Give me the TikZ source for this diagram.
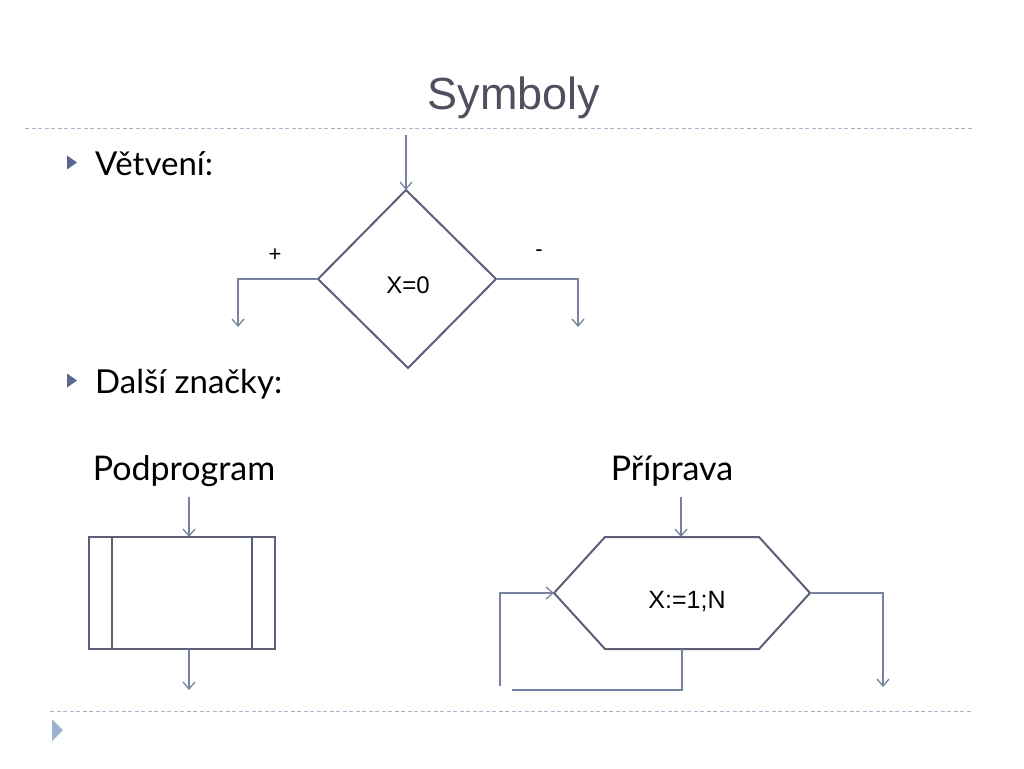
\documentclass[tikz,border=0pt]{standalone}
\usepackage{fontspec}
\setmainfont{Lato}
\newfontfamily\arialf{Liberation Sans}
\usetikzlibrary{arrows.meta}
\definecolor{titlegray}{HTML}{4F4F5F}
\definecolor{shapeline}{HTML}{5C5F78}
\definecolor{conn}{HTML}{7782A2}
\definecolor{rulec}{HTML}{A8B4C8}
\definecolor{bulletc}{HTML}{5A6890}
\definecolor{tri}{HTML}{9DB2D0}
\tikzset{
  shp/.style={draw=shapeline, line width=2pt},
  cn/.style={draw=conn, line width=1.3pt},
  arr/.style={cn, -{Straight Barb[length=7pt,width=12pt,line width=1.3pt]}},
  rul/.style={draw=rulec, line width=1pt, dash pattern=on 4pt off 2.5pt},
  bul/.style={fill=bulletc},
  body/.style={font=\fontsize{33}{40}\selectfont, anchor=base west, inner sep=0pt},
  head/.style={font=\fontsize{34}{40}\selectfont, anchor=base, inner sep=0pt},
  lbl/.style={font=\arialf\fontsize{24}{28}\selectfont, inner sep=0pt},
  sign/.style={font=\arialf\fontsize{22}{26}\selectfont, inner sep=0pt},
}
\begin{document}
\begin{tikzpicture}[x=1pt,y=-1pt]
\useasboundingbox (0,0) rectangle (1024,768);
% title
\node[font=\arialf\fontsize{45}{54}\selectfont, text=titlegray, anchor=base, inner sep=0pt] (title) at (514,109) {Symboly};
\draw[rul] (25,128) -- (972,128);
\draw[rul] (50,711) -- (972,711);
\fill[tri] (52,719) -- (63,730) -- (52,741) -- cycle;
% bullets
\fill[bul] (67,155.5) -- (77,162.5) -- (67,169.5) -- cycle;
\node[body] (b1) at (95,175) {Větvení:};
\fill[bul] (67,373.5) -- (77,380.5) -- (67,387.5) -- cycle;
\node[body] (b2) at (95,393) {Další značky:};
\node[head] (pp) at (184,480) {Podprogram};
\node[head] (pr) at (672,480) {Příprava};
% diamond
\coordinate (dT) at (406,190);
\coordinate (dL) at (318,279);
\coordinate (dR) at (496,279);
\coordinate (dB) at (408,368);
\draw[shp, line join=miter] (dT) -- (dR) -- (dB) -- (dL) -- cycle;
\node[lbl] (x0) at (408,285) {X=0};
\coordinate (dIn) at (406,135);
\draw[arr] (dIn) -- (dT);
\coordinate (lA) at (238,279);
\coordinate (lB) at (238,327);
\draw[arr] (dL) -- (lA) -- (lB);
\coordinate (rA) at (578,279);
\coordinate (rB) at (578,327);
\draw[arr] (dR) -- (rA) -- (rB);
\node[sign] (plus) at (275,255) {+};
\node[sign] (minus) at (539,253) {-};
% subprogram
\draw[shp] (89,537) rectangle (275,649);
\draw[shp] (112,537) -- (112,649);
\draw[shp] (252,537) -- (252,649);
\coordinate (spIn) at (189,497);
\coordinate (spT) at (189,537);
\coordinate (spB) at (189,649);
\coordinate (spOut) at (189,690);
\draw[arr] (spIn) -- (spT);
\draw[arr] (spB) -- (spOut);
% hexagon
\coordinate (hL) at (554,593);
\coordinate (hTL) at (605,537);
\coordinate (hTR) at (759,537);
\coordinate (hR) at (810,593);
\coordinate (hBR) at (759,649);
\coordinate (hBL) at (605,649);
\draw[shp, line join=miter] (hL) -- (hTL) -- (hTR) -- (hR) -- (hBR) -- (hBL) -- cycle;
\node[lbl, font=\arialf\fontsize{25}{30}\selectfont] (xn) at (687,601) {X:=1;N};
\coordinate (hIn) at (681,497);
\coordinate (hT) at (681,537);
\draw[arr] (hIn) -- (hT);
\coordinate (hoA) at (883,593);
\coordinate (hoB) at (883,687);
\draw[arr] (hR) -- (hoA) -- (hoB);
\coordinate (hB) at (682,649);
\coordinate (lp1) at (682,690);
\coordinate (lp2) at (512,690);
\draw[cn] (hB) -- (lp1) -- (lp2);
\coordinate (lp3) at (500,686);
\coordinate (lp4) at (500,593);
\draw[arr] (lp3) -- (lp4) -- (hL);
\end{tikzpicture}
\end{document}
